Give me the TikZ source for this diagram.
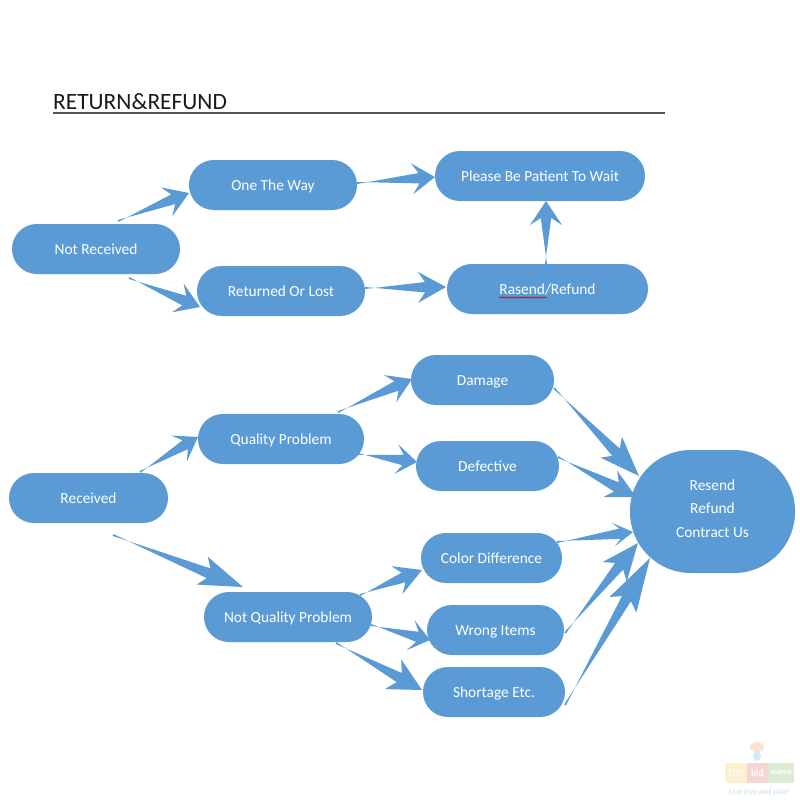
\documentclass[tikz,border=0pt]{standalone}
\usepackage{fontspec}
\setmainfont{Carlito}
\usetikzlibrary{calc,decorations.pathmorphing}
\definecolor{boxblue}{HTML}{5B9BD5}
\definecolor{titleink}{HTML}{1A1A1A}
\definecolor{ruleink}{HTML}{555555}
\definecolor{logoY}{HTML}{FBF0CF}
\definecolor{logoP}{HTML}{F7D5D5}
\definecolor{logoG}{HTML}{DDEBD3}
\definecolor{logoB}{HTML}{D5E8F5}
\definecolor{logoO}{HTML}{FBE3D0}
\tikzset{
  pill/.style={fill=boxblue,text=white,rounded corners=24.9pt,minimum height=50pt,
    inner sep=0pt,text height=10pt,text depth=0pt,font=\fontsize{15.4}{18}\selectfont},
  hub/.style={fill=boxblue,text=white,rounded corners=61pt,minimum width=165pt,minimum height=123pt,
    inner sep=0pt,align=center,text depth=6pt,font=\fontsize{15.4}{23.5}\selectfont},
  wedgefill/.style={fill=boxblue,draw=none},
  logotile/.style={minimum height=20pt,inner sep=0pt,text=white,font=\bfseries\fontsize{10}{10}\selectfont}
}
% \flow{from}{dx,dy}{to}{dx,dy}{head length}{head half width}
\newcommand{\flow}[6]{%
  \coordinate (fs) at ($(#1.center)+(#2)$);
  \coordinate (ft) at ($(#3.center)+(#4)$);
  \coordinate (fb) at ($(ft)!#5pt!(fs)$);
  \coordinate (fn) at ($(ft)!#5pt-7pt!(fs)$);
  \fill[wedgefill] ($(fs)!1pt!90:(ft)$) -- ($(fn)!5.2pt!-90:(ft)$) -- ($(fb)!#6pt!-90:(ft)$) --
    (ft) -- ($(fb)!#6pt!90:(ft)$) -- ($(fn)!5.2pt!90:(ft)$) -- ($(fs)!1pt!-90:(ft)$) -- cycle;
}
\begin{document}
\begin{tikzpicture}[x=1pt,y=-1pt]
\useasboundingbox (0,0) rectangle (800,800);
\fill[white] (0,0) rectangle (800,800);
% title
\node[anchor=base west,inner sep=0pt,text=titleink,font=\fontsize{23.4}{26}\selectfont] (title) at (53,109) {RETURN\&REFUND};
\coordinate (ruleL) at (53,113);
\coordinate (ruleR) at (665,113);
\draw[ruleink,line width=1.2pt] (ruleL) -- (ruleR);
% nodes
\node[pill,minimum width=168pt] (nr) at (96,249) {Not Received};
\node[pill,minimum width=168pt] (one) at (273,185) {One The Way};
\node[pill,minimum width=168pt] (ret) at (281,291) {Returned Or Lost};
\node[pill,minimum width=210pt] (wait) at (540,176) {Please Be Patient To Wait};
\node[pill,minimum width=201pt] (ras) at (547.5,289) {Rasend/Refund};
\node[pill,minimum width=143pt] (dam) at (482.5,380) {Damage};
\node[pill,minimum width=166pt] (qual) at (281,439) {Quality Problem};
\node[pill,minimum width=143pt] (def) at (487.5,466) {Defective};
\node[pill,minimum width=159pt] (rec) at (88.5,498) {Received};
\node[pill,minimum width=141pt] (col) at (491.5,558) {Color Difference};
\node[pill,minimum width=168pt] (nqp) at (288,617) {Not Quality Problem};
\node[pill,minimum width=137pt] (wro) at (495.5,630) {Wrong Items};
\node[pill,minimum width=142pt] (sho) at (494,692) {Shortage Etc.};
\node[hub] (res) at (712.5,511.5) {Resend\\Refund\\Contract Us};
% spell-check squiggle
\coordinate (sqL) at (499,297.5);
\coordinate (sqR) at (547,297.5);
\draw[red!70!black,line width=0.5pt,decorate,decoration={snake,amplitude=0.7pt,segment length=3pt}] (sqL) -- (sqR);
% connectors
\flow{nr}{22,-28}{one}{-84,8}{24}{15.5}
\flow{nr}{33,29}{ret}{-81,16}{24}{15.5}
\flow{one}{84,-2}{wait}{-105,1}{23}{15.5}
\flow{ret}{84,-3}{ras}{-101.5,-2}{28}{15.5}
\flow{ras}{-1.5,-25}{wait}{6,25}{24}{16}
\flow{rec}{51.5,-26}{qual}{-83,-2}{22}{15}
\flow{rec}{24.5,37}{nqp}{-45,-30}{44}{15}
\flow{qual}{57,-27}{dam}{-70.5,-1}{24}{15}
\flow{qual}{77,15}{def}{-70.5,-4}{21}{15}
\flow{nqp}{72,-22}{col}{-69.5,12}{27}{15}
\flow{nqp}{83,8}{wro}{-65.5,10}{20}{15.5}
\flow{nqp}{48,26}{sho}{-72,-2}{33}{17}
\flow{dam}{71.5,8}{res}{-73.5,-35.5}{40}{15}
\flow{def}{70.5,-9}{res}{-76.5,-14.5}{29}{15}
\flow{col}{65.5,-16}{res}{-79.5,20.5}{20}{12}
\flow{wro}{69.5,3}{res}{-74.5,31.5}{37}{15.5}
\flow{sho}{71,13}{res}{-62.5,46.5}{54}{15.5}
% faint logo
\fill[logoO] (757,747) ellipse (7pt and 5pt);
\fill[logoB] (757,756) ellipse (4pt and 5pt);
\node[logotile,fill=logoY,minimum width=22pt] (toy) at (736,773) {TOY};
\node[logotile,fill=logoP,minimum width=21pt] (kid) at (757.5,773) {kid};
\node[logotile,fill=logoG,minimum width=26pt,font=\bfseries\fontsize{8}{8}\selectfont] (mama) at (781,773) {mama};
\node[inner sep=0pt,text=logoB,font=\bfseries\itshape\fontsize{8}{8}\selectfont] (motto) at (759.5,792) {Live free and play!};
\end{tikzpicture}
\end{document}
